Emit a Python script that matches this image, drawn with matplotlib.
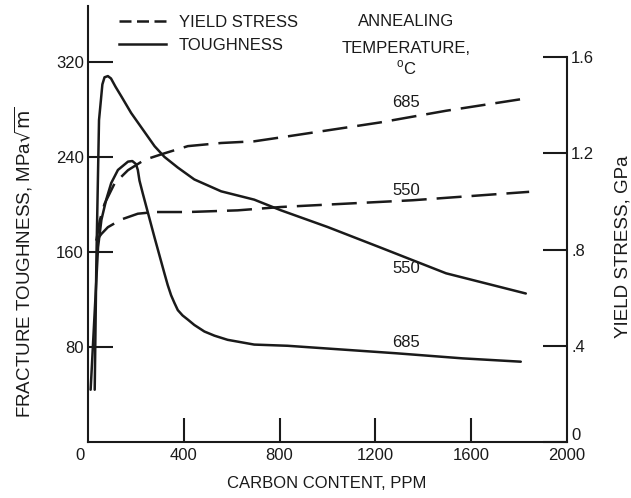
import matplotlib
matplotlib.use("Agg")
import matplotlib.pyplot as plt
from matplotlib.lines import Line2D
from matplotlib.transforms import ScaledTranslation

# Carbon content (PPM) vs fracture toughness (MPa sqrt(m))
tough_550_x = [28, 35, 46, 54, 60, 69, 83, 96, 115, 139, 180, 222, 278, 319, 375,
               444, 556, 694, 806, 1000, 1217, 1495, 1828]
tough_550_y = [44, 153, 271, 288, 301, 307, 308, 306, 299, 291, 277, 265, 249, 240,
               231, 221, 211, 204, 195, 181, 164, 142, 125]
tough_685_x = [11, 42, 56, 76, 97, 125, 167, 185, 200, 208, 215, 229, 278, 319, 333,
               347, 361, 375, 395, 417, 444, 486, 528, 583, 694, 833, 1286, 1564, 1807]
tough_685_y = [44, 164, 187, 204, 218, 229, 236, 236.5, 234, 229, 220, 209, 172, 142,
               132, 123.5, 117, 111, 106.5, 103, 98.5, 93, 89.5, 86, 82, 81, 74.7,
               70.4, 67.6]

# Carbon content (PPM) vs yield stress (GPa)
yield_685_x = [35, 49, 69, 111, 167, 236, 319, 417, 556, 694, 810, 1217, 1495, 1814]
yield_685_y = [0.837, 0.92, 0.99, 1.075, 1.13, 1.173, 1.20, 1.23, 1.243, 1.25, 1.267,
               1.328, 1.377, 1.426]
yield_550_x = [35, 56, 83, 139, 208, 278, 417, 625, 806, 1356, 1842]
yield_550_y = [0.837, 0.865, 0.893, 0.925, 0.949, 0.956, 0.956, 0.963, 0.977, 1.005, 1.04]

x_ticks = [0, 400, 800, 1200, 1600, 2000]
tough_ticks = [80, 160, 240, 320]
yield_ticks = [0, 0.4, 0.8, 1.2, 1.6]
yield_tick_labels = ["0", ".4", ".8", "1.2", "1.6"]

INK = "#1a1a1a"
plt.rcParams["font.family"] = ["Liberation Sans", "DejaVu Sans"]
plt.rcParams["mathtext.fontset"] = "dejavusans"
FS = 12
LW = 1.8
DASH = (0, (10, 4))

fig = plt.figure(figsize=(6.31, 4.98), dpi=100)
ax = fig.add_axes([88 / 631, 56 / 498, 479 / 631, 436 / 498])
ax2 = ax.twinx()

ax.plot(tough_550_x, tough_550_y, color=INK, lw=LW, solid_capstyle="round",
        solid_joinstyle="round")
ax.plot(tough_685_x, tough_685_y, color=INK, lw=LW, solid_capstyle="round",
        solid_joinstyle="round")
ax2.plot(yield_685_x, yield_685_y, color=INK, lw=LW, linestyle=DASH)
ax2.plot(yield_550_x, yield_550_y, color=INK, lw=LW, linestyle=DASH)

ax.set_xlim(0, 2000)
ax.set_ylim(0, 367)
ax2.set_ylim(0, 1.8125)

for a in (ax, ax2):
    a.spines["top"].set_visible(False)
    for s in a.spines.values():
        s.set_linewidth(1.5)
        s.set_color(INK)
ax2.spines["left"].set_visible(False)
ax2.spines["bottom"].set_visible(False)
ax2.spines["right"].set_bounds(0, 1.6)
ax.spines["right"].set_visible(False)

ax.set_xticks(x_ticks)
ax.set_xticklabels([str(v) for v in x_ticks])
ax.set_yticks(tough_ticks)
ax.set_yticklabels([str(v) for v in tough_ticks])
ax2.set_yticks(yield_ticks)
ax2.set_yticklabels(yield_tick_labels)

ax.tick_params(axis="x", direction="in", length=17, width=1.5, pad=4,
               labelsize=FS, colors=INK)
ax.tick_params(axis="y", direction="in", length=18, width=1.5, pad=3,
               labelsize=FS, colors=INK)
ax2.tick_params(axis="y", direction="in", length=17, width=1.5, pad=3,
                labelsize=FS, colors=INK)
# the x "0" sits a little left of the corner, the right "0" a little above it
lab0 = ax.get_xticklabels()[0]
lab0.set_transform(lab0.get_transform() + ScaledTranslation(-8 / 100, 0, fig.dpi_scale_trans))
rlab0 = ax2.get_yticklabels()[0]
rlab0.set_transform(rlab0.get_transform() + ScaledTranslation(0, 8 / 100, fig.dpi_scale_trans))
ax.xaxis.get_major_ticks()[0].tick1line.set_visible(False)
ax.xaxis.get_major_ticks()[-1].tick1line.set_visible(False)

# axis titles
fig.text(327 / 631, 1 - 483 / 498, "CARBON CONTENT, PPM", ha="center", va="center",
         fontsize=FS, color=INK)
fig.text(24 / 631, 1 - 262 / 498, r"FRACTURE TOUGHNESS, MPa$\sqrt{\mathrm{m}}$",
         ha="center", va="center", rotation=90, fontsize=13.5, color=INK)
fig.text(623 / 631, 1 - 247 / 498, "YIELD STRESS, GPa", ha="center", va="center",
         rotation=90, fontsize=13.5, color=INK)

# annotations
ax.text(1329, 354, "ANNEALING", ha="center", va="center", fontsize=FS, color=INK)
ax.text(1329, 331, "TEMPERATURE,", ha="center", va="center", fontsize=FS, color=INK)
ax.text(1329, 315, r"$^\mathregular{o}$C", ha="center", va="center", fontsize=FS, color=INK)
ax.text(1329, 286, "685", ha="center", va="center", fontsize=FS, color=INK)
ax.text(1329, 212, "550", ha="center", va="center", fontsize=FS, color=INK)
ax.text(1329, 146, "550", ha="center", va="center", fontsize=FS, color=INK)
ax.text(1329, 84, "685", ha="center", va="center", fontsize=FS, color=INK)

handles = [Line2D([], [], color=INK, lw=LW, linestyle=(0, (4.8, 2.2))),
           Line2D([], [], color=INK, lw=LW)]
fig.legend(handles, ["YIELD STRESS", "TOUGHNESS"], loc="upper left",
           bbox_to_anchor=(119 / 631, 1 - 15 / 498), frameon=False, fontsize=FS,
           handlelength=2.8, handletextpad=0.8, labelspacing=0.45,
           borderpad=0, borderaxespad=0, labelcolor=INK)

fig.savefig("out.png", dpi=100)
